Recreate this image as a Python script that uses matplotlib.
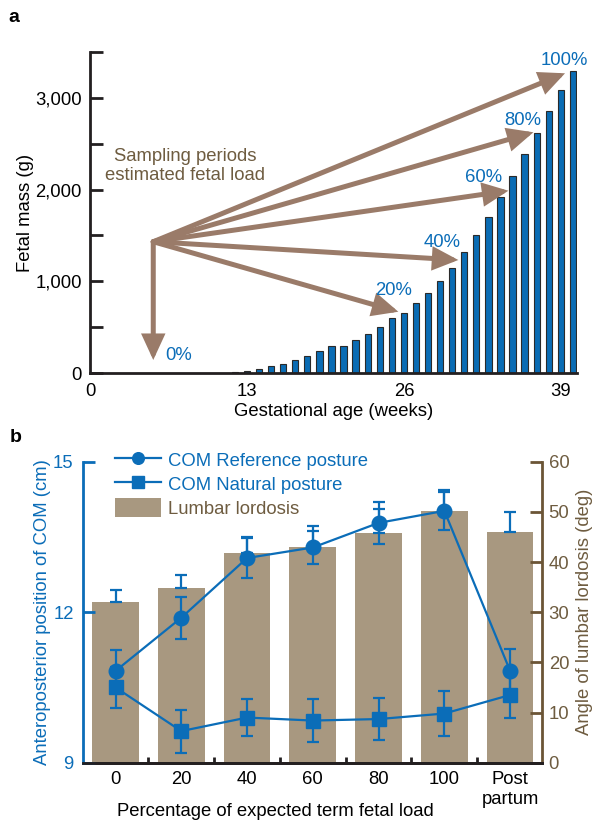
import numpy as np
import matplotlib
matplotlib.use("Agg")
import matplotlib.pyplot as plt
from matplotlib.lines import Line2D
from matplotlib.patches import Patch
from matplotlib.ticker import FixedLocator

plt.rcParams['font.family'] = ['Liberation Sans', 'DejaVu Sans']
plt.rcParams['font.size'] = 13

# ---- panel a data: fetal mass by gestational week
weeks = np.arange(12, 41)
fetal_mass = [15, 25, 45, 75, 105, 140, 190, 240, 300, 300, 360, 430, 500, 600, 660,
              760, 875, 1005, 1150, 1318, 1505, 1703, 1920, 2145, 2384, 2620, 2855,
              3080, 3285]

# sampling-period arrows (start point, tips, labels)
arrow_start = (5.24, 1432)
load_labels = ['0%', '20%', '40%', '60%', '80%', '100%']
tip_week = [5.24, 25.54, 30.51, 34.66, 36.73, 39.35]
tip_mass = [145, 670, 1233, 1987, 2623, 3265]
label_week = [7.32, 25.13, 29.14, 32.64, 35.82, 39.27]
label_mass = [199, 899, 1426, 2133, 2749, 3409]

# ---- panel b data
load_cats = ['0', '20', '40', '60', '80', '100', 'Post\npartum']
lordosis = [32.1, 34.9, 41.9, 43.0, 45.8, 50.2, 46.0]
lordosis_err = [2.3, 2.6, 3.0, 4.2, 4.8, 4.2, 3.9]
com_ref = [10.83, 11.89, 13.08, 13.29, 13.78, 14.02, 10.83]
com_ref_err = [0.42, 0.42, 0.40, 0.32, 0.42, 0.38, 0.43]
com_nat = [10.50, 9.63, 9.90, 9.84, 9.87, 9.98, 10.35]
com_nat_err = [0.40, 0.43, 0.37, 0.42, 0.42, 0.45, 0.45]

BLUE = '#0b6db8'
BAR_BLUE = '#0a6cb4'
ARROW = '#9a7b69'
BROWN_TXT = '#6e5c40'
BROWN_AX = '#6b5536'
TAN = '#a89880'
BLACK = '#231f20'

fig = plt.figure(figsize=(5.93, 8.23), dpi=100)

# ================= panel a =================
axa = fig.add_axes([90/593, 1-373.3/823, 487/593, 321.6/823])
axa.bar(weeks, fetal_mass, width=0.52, color=BAR_BLUE, edgecolor='#2a2a2a', linewidth=0.8, zorder=2)
axa.set_xlim(0, 40.34)
axa.set_ylim(0, 3500)
axa.set_xticks([0, 13, 26, 39])
axa.set_yticks(np.arange(0, 3501, 500))
axa.set_yticklabels(['{:,}'.format(v) if v % 1000 == 0 and v < 3500 else '' for v in range(0, 3501, 500)])
for s in ['top', 'right']:
    axa.spines[s].set_visible(False)
for s in ['left', 'bottom']:
    axa.spines[s].set_linewidth(2)
    axa.spines[s].set_color(BLACK)
axa.tick_params(axis='y', direction='in', length=9, width=2, color=BLACK, pad=6, labelsize=13.3)
axa.tick_params(axis='x', length=0, pad=7, labelsize=13.3)
axa.set_ylabel('Fetal mass (g)', fontsize=13.3)
axa.yaxis.set_label_coords(-0.116, 0.5)
axa.set_xlabel('Gestational age (weeks)', fontsize=13.3)
axa.xaxis.set_label_coords(0.5, -0.092)

for lab, tw, tm, lw_, lm in zip(load_labels, tip_week, tip_mass, label_week, label_mass):
    axa.annotate('', xy=(tw, tm), xytext=arrow_start,
                 arrowprops=dict(arrowstyle='-|>,head_length=0.65,head_width=0.3',
                                 lw=3.6, color=ARROW, shrinkA=0, shrinkB=0,
                                 mutation_scale=20, joinstyle='miter'), zorder=3)
    axa.text(lw_, lm, lab, color=BLUE, fontsize=13.3, ha='center', va='center', zorder=4)

axa.text(7.87, 2256, 'Sampling periods\nestimated fetal load', color=BROWN_TXT,
         fontsize=13.3, ha='center', va='center', zorder=4)

# ================= panel b =================
axb = fig.add_axes([83.3/593, 1-762.7/823, 458.4/593, 301/823])
ax2 = axb.twinx()
x = np.arange(len(load_cats))

ax2.bar(x, lordosis, width=0.71, color=TAN, zorder=1)
ax2.errorbar(x, lordosis, yerr=[np.zeros(len(x)), lordosis_err], fmt='none',
             ecolor=BLUE, elinewidth=1.6, capsize=4.2, capthick=1.6, zorder=2)

axb.set_zorder(ax2.get_zorder() + 1)
axb.patch.set_visible(False)

axb.errorbar(x, com_ref, yerr=com_ref_err, color=BLUE, marker='o', markersize=10.5,
             lw=1.6, elinewidth=1.6, capsize=4.2, capthick=1.6)
axb.errorbar(x, com_nat, yerr=com_nat_err, color=BLUE, marker='s', markersize=10.5,
             lw=1.6, elinewidth=1.6, capsize=4.2, capthick=1.6)

axb.set_xlim(-0.49, 6.48)
axb.set_ylim(9, 15)
ax2.set_ylim(0, 60)
axb.set_yticks([9, 12, 15])
ax2.set_yticks(np.arange(0, 61, 10))
axb.set_xticks(x)
axb.set_xticklabels(load_cats)
axb.xaxis.set_minor_locator(FixedLocator(x[:-1] + 0.5))

for a in (axb, ax2):
    a.spines['top'].set_visible(False)
    a.spines['bottom'].set_linewidth(2)
    a.spines['bottom'].set_color(BLACK)
axb.spines['right'].set_visible(False)
ax2.spines['left'].set_visible(False)
axb.spines['left'].set_linewidth(2)
axb.spines['left'].set_color(BLUE)
ax2.spines['right'].set_linewidth(2)
ax2.spines['right'].set_color(BROWN_AX)

axb.tick_params(axis='y', direction='in', length=8.5, width=2, color=BLUE,
                labelcolor=BLUE, pad=7, labelsize=13.3)
ax2.tick_params(axis='y', direction='in', length=9, width=2, color=BROWN_AX,
                labelcolor=BROWN_TXT, pad=5, labelsize=13.3)
axb.tick_params(axis='x', which='major', length=0, pad=6, labelsize=13.3)
axb.tick_params(axis='x', which='minor', direction='in', length=4, width=2, color=BLACK)

axb.set_ylabel('Anteroposterior position of COM (cm)', color=BLUE, fontsize=13.3)
axb.yaxis.set_label_coords(-0.071, 0.5)
ax2.set_ylabel('Angle of lumbar lordosis (deg)', color=BROWN_TXT, fontsize=13.3)
ax2.yaxis.set_label_coords(1.075, 0.5)
axb.set_xlabel('Percentage of expected term fetal load', fontsize=13.3)
axb.xaxis.set_label_coords(0.42, -0.134)

handles = [Line2D([], [], color=BLUE, marker='o', markersize=10.5, lw=1.6),
           Line2D([], [], color=BLUE, marker='s', markersize=10.5, lw=1.6),
           Patch(facecolor=TAN, edgecolor='none')]
leg = axb.legend(handles, ['COM Reference posture', 'COM Natural posture', 'Lumbar lordosis'],
                 loc='upper left', bbox_to_anchor=(0.069, 1.0375), frameon=False,
                 borderpad=0, borderaxespad=0, handlelength=2.5, handleheight=1.25,
                 handletextpad=0.37, labelspacing=0.2, markerscale=0.8, fontsize=13.3)
for t, c in zip(leg.get_texts(), [BLUE, BLUE, BROWN_TXT]):
    t.set_color(c)

fig.text(14/593, 1-17/823, 'a', fontsize=14, fontweight='bold', ha='center', va='center')
fig.text(16/593, 1-438/823, 'b', fontsize=14, fontweight='bold', ha='center', va='center')

fig.savefig('out.png', dpi=100)
